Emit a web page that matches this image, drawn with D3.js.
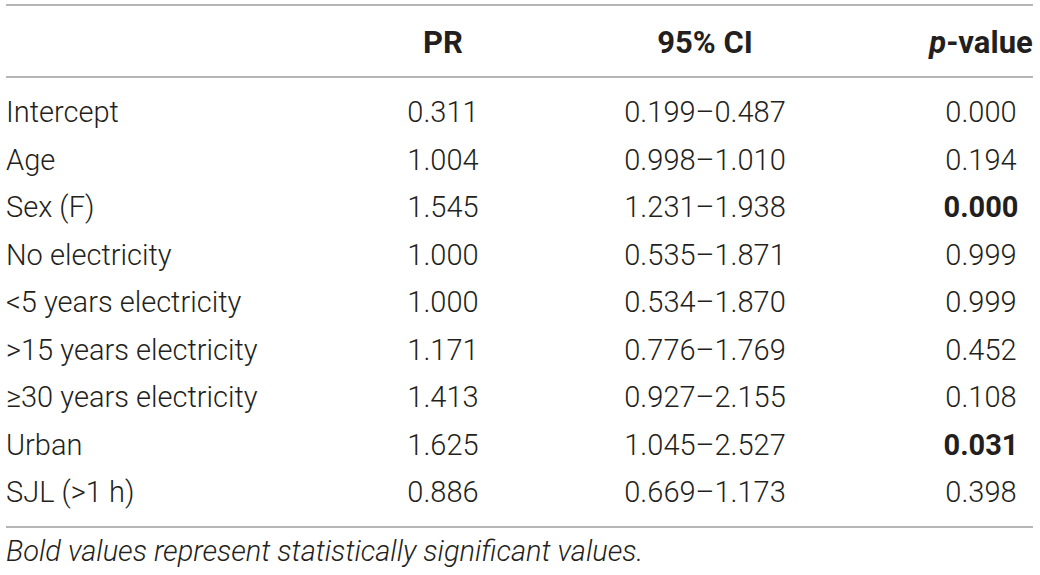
<!DOCTYPE html>
<html>
	<head>
		<meta charset="utf-8">
		<title>PR table</title>
		<script src="https://d3js.org/d3.v7.min.js"></script>
		<style type="text/css">
			body {margin: 0; background: #fff;}
			text {font-family: Roboto, 'Liberation Sans', sans-serif; font-weight: 300; font-size: 29px; fill: #231f20;}
			.head {font-weight: 700; font-size: 31px;}
			.sig {font-weight: 700;}
			.note {font-style: italic; font-size: 29px;}
			.rule {stroke: #9d9d9d; stroke-width: 1.6;}
		</style>
	</head>
	<body>
		<svg width=1040 height=575></svg>
	</body>
	<script type="text/javascript">
		// table contents
		var rowLabels = ["Intercept", "Age", "Sex (F)", "No electricity", "<5 years electricity",
		                 ">15 years electricity", "\u226530 years electricity", "Urban", "SJL (>1 h)"];
		var prValues = ["0.311", "1.004", "1.545", "1.000", "1.000", "1.171", "1.413", "1.625", "0.886"];
		var ciLow = ["0.199", "0.998", "1.231", "0.535", "0.534", "0.776", "0.927", "1.045", "0.669"];
		var ciHigh = ["0.487", "1.010", "1.938", "1.871", "1.870", "1.769", "2.155", "2.527", "1.173"];
		var pValues = ["0.000", "0.194", "0.000", "0.999", "0.999", "0.452", "0.108", "0.031", "0.398"];
		var significant = ["Sex (F)", "Urban"];
		var columns = ["PR", "95% CI", "p-value"];
		var footnote = "Bold values represent statistically significant values.";

		var svg = d3.select("svg"),
		    width = +svg.attr("width"),
		    height = +svg.attr("height");

		var left = 6, right = 1033;

		// row centres
		var y = d3.scalePoint()
		    .domain(rowLabels)
		    .range([112, 492]);

		// column centres
		var x = d3.scaleOrdinal()
		    .domain(columns)
		    .range([443, 705, 981]);

		var rows = rowLabels.map(function(d, i) {
			return {
				label: d,
				cells: [prValues[i], ciLow[i] + "\u2013" + ciHigh[i], pValues[i]],
				sig: significant.indexOf(d) >= 0
			};
		});

		// horizontal rules
		svg.selectAll("line.rule")
		    .data([5, 77, 527])
		  .enter().append("line")
		    .attr("class", "rule")
		    .attr("x1", left)
		    .attr("x2", right)
		    .attr("y1", function(d) { return d; })
		    .attr("y2", function(d) { return d; });

		// header
		var head = svg.selectAll("text.head")
		    .data(columns)
		  .enter().append("text")
		    .attr("class", "head")
		    .attr("x", function(d) { return x(d); })
		    .attr("y", 42)
		    .attr("dy", "0.36em")
		    .attr("text-anchor", "middle");

		head.each(function(d) {
			var t = d3.select(this);
			if (d === "p-value") {
				t.append("tspan").style("font-style", "italic").text("p");
				t.append("tspan").text("-value");
			} else {
				t.text(d);
			}
		});

		// body rows
		var row = svg.selectAll("g.row")
		    .data(rows)
		  .enter().append("g")
		    .attr("class", "row")
		    .attr("transform", function(d) { return "translate(0," + y(d.label) + ")"; });

		row.append("text")
		    .attr("x", 6)
		    .attr("dy", "0.36em")
		    .text(function(d) { return d.label; });

		row.selectAll("text.cell")
		    .data(function(d) {
		    	return d.cells.map(function(c, j) { return {v: c, col: columns[j], bold: d.sig && j === 2}; });
		    })
		  .enter().append("text")
		    .attr("class", function(d) { return d.bold ? "cell sig" : "cell"; })
		    .attr("x", function(d) { return x(d.col); })
		    .attr("dy", "0.36em")
		    .attr("text-anchor", "middle")
		    .text(function(d) { return d.v; });

		// footnote
		svg.append("text")
		    .attr("class", "note")
		    .attr("x", 6)
		    .attr("y", 551)
		    .attr("dy", "0.36em")
		    .text(footnote);
	</script>
</html>
